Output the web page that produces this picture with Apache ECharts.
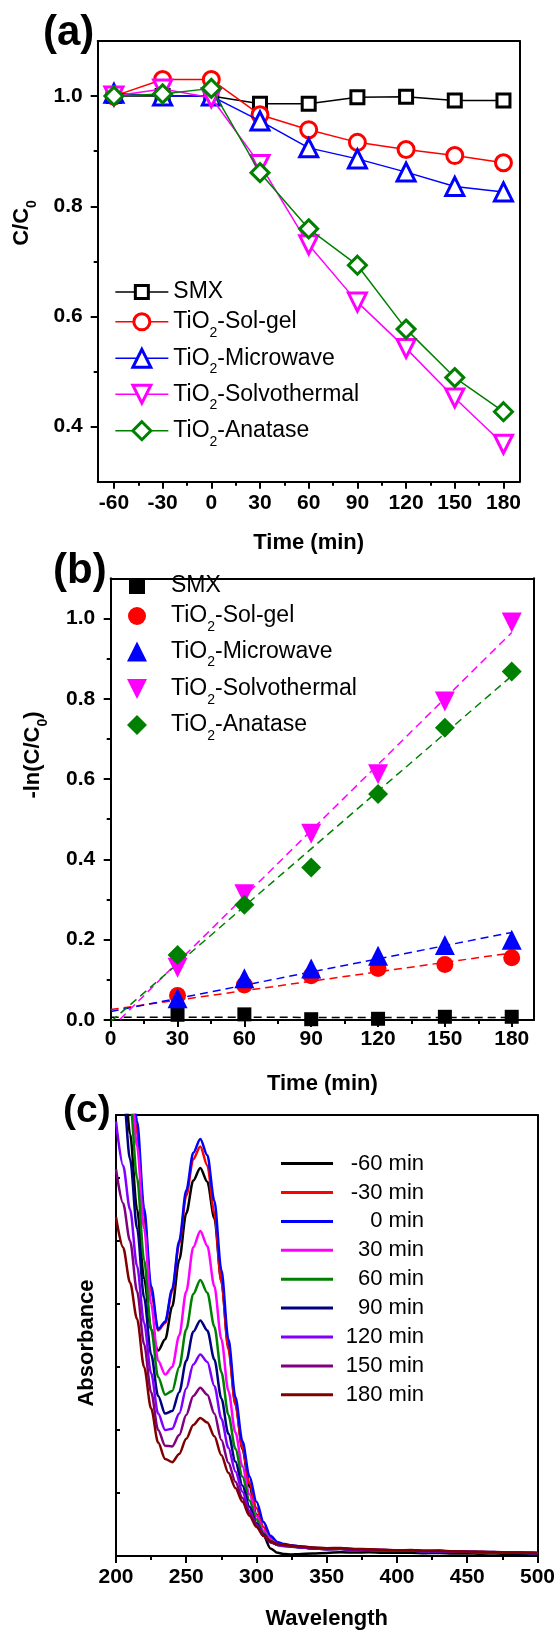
<!DOCTYPE html>
<html>
<head>
<meta charset="utf-8">
<title>SMX degradation</title>
<script src="https://cdn.jsdelivr.net/npm/echarts@6.0.0/dist/echarts.min.js"></script>
<style>
    html, body { margin: 0; padding: 0; background: #fff; }
    #chart { width: 558px; height: 1633px; }
</style>
</head>
<body>
<div id="chart"></div>
<script>
// (a) C/C0 vs time
const timeA = [-60, -30, 0, 30, 60, 90, 120, 150, 180];
const smxA = [1.0, 1.0, 1.0, 0.986, 0.986, 0.998, 0.999, 0.992, 0.992];
const solgelA = [1.0, 1.03, 1.03, 0.966, 0.939, 0.916, 0.903, 0.892, 0.879];
const microA = [1.005, 1.0, 1.0, 0.955, 0.906, 0.886, 0.862, 0.836, 0.826];
const solvoA = [1.0, 1.013, 0.997, 0.876, 0.73, 0.626, 0.542, 0.452, 0.368];
const anataseA = [1.0, 1.004, 1.014, 0.861, 0.759, 0.693, 0.577, 0.489, 0.427];
const ticksXA = [-60, -30, 0, 30, 60, 90, 120, 150, 180];
const minorXA = [-45, -15, 15, 45, 75, 105, 135, 165];
const ticksYA = [0.4, 0.6, 0.8, 1.0];
const minorYA = [0.5, 0.7, 0.9];

// (b) -ln(C/C0) vs time, with linear fits (values at t = 0 and t = 180)
const timeB = [30, 60, 90, 120, 150, 180];
const smxB = [0.013, 0.014, 0.002, 0.003, 0.008, 0.008];
const solgelB = [0.061, 0.087, 0.11, 0.128, 0.138, 0.155];
const microB = [0.054, 0.104, 0.128, 0.16, 0.187, 0.2];
const solvoB = [0.13, 0.313, 0.464, 0.612, 0.793, 0.99];
const anataseB = [0.162, 0.287, 0.38, 0.563, 0.728, 0.868];
const fitT = [0, 180];
const smxFit = [0.007, 0.006];
const solgelFit = [0.026, 0.167];
const microFit = [0.021, 0.218];
const solvoFit = [-0.021, 0.965];
const anataseFit = [-0.004, 0.857];
const ticksXB = [0, 30, 60, 90, 120, 150, 180];
const minorXB = [15, 45, 75, 105, 135, 165];
const ticksYB = [0, 0.2, 0.4, 0.6, 0.8, 1.0];
const minorYB = [0.1, 0.3, 0.5, 0.7, 0.9];

// (c) UV-vis spectra
const wl = [200, 205, 210, 215, 220, 225, 230, 235, 240, 245, 250, 255, 260, 265, 270, 275, 280, 285, 290, 295, 300, 305, 310, 315, 320, 325, 330,
    340, 350, 360, 370, 380, 390, 400, 410, 420, 430, 440, 450, 460, 470, 480, 490, 500];
const absM60 = [4.6, 4.0, 3.35, 2.75, 2.2, 1.8, 1.63, 1.72, 1.98, 2.35, 2.72, 2.98, 3.08, 2.97, 2.68, 2.18, 1.66, 1.21, 0.85, 0.55, 0.33, 0.16, 0.06, 0.025, 0.015, 0.012, 0.014,
    0.02, 0.024, 0.03, 0.027, 0.029, 0.026, 0.025, 0.026, 0.022, 0.024, 0.02, 0.021, 0.018, 0.02, 0.017, 0.018, 0.015];
const absM30 = [5.1, 4.6, 3.95, 3.35, 2.7, 2.1, 1.79, 1.85, 2.1, 2.48, 2.86, 3.15, 3.25, 3.1, 2.72, 2.18, 1.64, 1.2, 0.86, 0.58, 0.38, 0.23, 0.14, 0.1, 0.085, 0.078, 0.072,
    0.06, 0.055, 0.058, 0.05, 0.049, 0.046, 0.043, 0.044, 0.039, 0.04, 0.035, 0.034, 0.031, 0.03, 0.027, 0.025, 0.022];
const abs0 = [5.2, 4.7, 4.05, 3.45, 2.76, 2.14, 1.8, 1.86, 2.12, 2.5, 2.9, 3.2, 3.31, 3.18, 2.82, 2.27, 1.72, 1.26, 0.91, 0.63, 0.43, 0.27, 0.16, 0.11, 0.095, 0.085, 0.078,
    0.065, 0.058, 0.06, 0.052, 0.05, 0.047, 0.044, 0.045, 0.04, 0.041, 0.036, 0.035, 0.032, 0.031, 0.028, 0.027, 0.024];
const abs30 = [5.0, 4.5, 3.85, 3.25, 2.6, 2.0, 1.55, 1.44, 1.5, 1.75, 2.1, 2.45, 2.58, 2.46, 2.14, 1.72, 1.31, 0.98, 0.71, 0.49, 0.32, 0.2, 0.13, 0.095, 0.085, 0.078, 0.072,
    0.062, 0.056, 0.058, 0.05, 0.048, 0.046, 0.042, 0.043, 0.038, 0.039, 0.034, 0.033, 0.03, 0.029, 0.026, 0.025, 0.022];
const abs60 = [4.8, 4.2, 3.62, 3.0, 2.35, 1.8, 1.42, 1.28, 1.31, 1.5, 1.8, 2.08, 2.19, 2.09, 1.82, 1.46, 1.12, 0.85, 0.63, 0.44, 0.29, 0.18, 0.12, 0.09, 0.082, 0.076, 0.07,
    0.06, 0.055, 0.057, 0.05, 0.048, 0.045, 0.042, 0.043, 0.038, 0.038, 0.034, 0.033, 0.03, 0.029, 0.026, 0.024, 0.021];
const abs90 = [4.3, 3.7, 3.15, 2.6, 2.05, 1.6, 1.27, 1.13, 1.15, 1.3, 1.55, 1.78, 1.87, 1.79, 1.56, 1.25, 0.97, 0.75, 0.56, 0.39, 0.26, 0.17, 0.11, 0.088, 0.08, 0.074, 0.07,
    0.06, 0.054, 0.056, 0.049, 0.047, 0.045, 0.041, 0.042, 0.037, 0.038, 0.033, 0.032, 0.029, 0.028, 0.025, 0.024, 0.021];
const abs120 = [3.45, 3.1, 2.75, 2.3, 1.85, 1.45, 1.13, 1.0, 1.01, 1.13, 1.33, 1.52, 1.6, 1.54, 1.35, 1.09, 0.86, 0.67, 0.51, 0.36, 0.25, 0.16, 0.11, 0.088, 0.08, 0.075, 0.07,
    0.061, 0.055, 0.057, 0.05, 0.048, 0.045, 0.042, 0.043, 0.038, 0.039, 0.034, 0.033, 0.03, 0.029, 0.026, 0.025, 0.022];
const abs150 = [3.07, 2.8, 2.5, 2.1, 1.68, 1.3, 1.0, 0.875, 0.87, 0.96, 1.12, 1.27, 1.335, 1.28, 1.13, 0.92, 0.74, 0.59, 0.46, 0.34, 0.24, 0.16, 0.11, 0.09, 0.083, 0.078, 0.073,
    0.063, 0.057, 0.06, 0.052, 0.05, 0.047, 0.044, 0.045, 0.04, 0.04, 0.035, 0.034, 0.031, 0.03, 0.027, 0.026, 0.023];
const abs180 = [2.69, 2.45, 2.17, 1.88, 1.5, 1.17, 0.9, 0.77, 0.745, 0.81, 0.93, 1.04, 1.095, 1.06, 0.95, 0.8, 0.66, 0.54, 0.43, 0.32, 0.23, 0.16, 0.115, 0.095, 0.088, 0.082, 0.078,
    0.068, 0.062, 0.064, 0.056, 0.054, 0.05, 0.046, 0.047, 0.042, 0.042, 0.037, 0.036, 0.033, 0.031, 0.028, 0.027, 0.024];
const spectraNames = ['-60 min', '-30 min', '0 min', '30 min', '60 min', '90 min', '120 min', '150 min', '180 min'];
const spectraColors = ['#000000', '#ff0000', '#0000ff', '#ff00ff', '#008000', '#000080', '#8000ff', '#800080', '#800000'];
const spectra = [absM60, absM30, abs0, abs30, abs60, abs90, abs120, abs150, abs180];
const ticksXC = [200, 250, 300, 350, 400, 450, 500];
const minorXC = [225, 275, 325, 375, 425, 475];
const ticksYC = [0.5, 1.0, 1.5, 2.0, 2.5, 3.0];

const sampleNames = ['SMX', 'TiO2-Sol-gel', 'TiO2-Microwave', 'TiO2-Solvothermal', 'TiO2-Anatase'];
const sampleColors = ['#000000', '#ff0000', '#0000ff', '#ff00ff', '#008000'];

const FONT = 'Liberation Sans';
const black2 = { color: '#000', width: 2 };

function pairs(xs, ys) {
    return xs.map(function (x, i) { return [x, ys[i]]; });
}

// subscript formatter for "TiO2"; panel (b) series carry a "b:" prefix
function tiFmt(name) {
    name = name.replace(/^b:/, '');
    if (name.indexOf('TiO2') === 0) {
        return '{n|TiO}{s|2}{n|' + name.slice(4) + '}';
    }
    return '{n|' + name + '}';
}
const tiRich = {
    n: { fontSize: 23, lineHeight: 36, fontFamily: FONT, color: '#000' },
    s: { fontSize: 14, lineHeight: 14, verticalAlign: 'bottom', fontFamily: FONT, color: '#000' }
};

let grids = [
    { left: 97.7, top: 41, width: 422, height: 440.7 },
    { left: 110.7, top: 578.3, width: 423.3, height: 441.7 },
    { left: 116, top: 1115, width: 422, height: 441 }
];

let xAxes = [];
let yAxes = [];

function addAxes(g, o) {
    let labelStyle = { fontSize: 21, fontWeight: 'bold', fontFamily: FONT, color: '#000' };
    // bottom: main ticks + labels
    xAxes.push({
        type: 'value', gridIndex: g, position: 'bottom', min: o.xMin, max: o.xMax,
        axisLine: { onZero: false, lineStyle: black2 },
        axisTick: { customValues: o.xTicks, length: 7, lineStyle: black2 },
        axisLabel: Object.assign({ customValues: o.xTicks, margin: o.xMargin }, labelStyle),
        splitLine: { show: false },
        name: o.xName, nameLocation: 'middle', nameGap: o.xNameGap,
        nameTextStyle: { fontSize: 22, fontWeight: 'bold', fontFamily: FONT, color: '#000' }
    });
    // bottom: minor ticks
    xAxes.push({
        type: 'value', gridIndex: g, position: 'bottom', min: o.xMin, max: o.xMax,
        axisLine: { show: false, onZero: false },
        axisTick: { customValues: o.xMinor, length: 4, lineStyle: black2 },
        axisLabel: { show: false }, splitLine: { show: false }
    });
    // top frame
    xAxes.push({
        type: 'value', gridIndex: g, position: 'top', min: o.xMin, max: o.xMax,
        axisLine: { show: true, onZero: false, lineStyle: black2 },
        axisTick: { show: false }, axisLabel: { show: false }, splitLine: { show: false }
    });
    yAxes.push({
        type: 'value', gridIndex: g, position: 'left', min: o.yMin, max: o.yMax,
        axisLine: { show: true, onZero: false, lineStyle: black2 },
        axisTick: { customValues: o.yTicks, length: o.yTickLen, inside: !!o.yInside, lineStyle: black2 },
        axisLabel: Object.assign({
            show: o.yLabels, customValues: o.yTicks, margin: o.yMargin,
            formatter: function (v) { return Number(v).toFixed(1); }
        }, labelStyle),
        splitLine: { show: false }
    });
    yAxes.push({
        type: 'value', gridIndex: g, position: 'left', min: o.yMin, max: o.yMax,
        axisLine: { show: false, onZero: false },
        axisTick: { show: o.yMinor.length > 0, customValues: o.yMinor.length ? o.yMinor : [o.yMin], length: 4, lineStyle: black2 },
        axisLabel: { show: false }, splitLine: { show: false }
    });
    yAxes.push({
        type: 'value', gridIndex: g, position: 'right', min: o.yMin, max: o.yMax,
        axisLine: { show: true, onZero: false, lineStyle: black2 },
        axisTick: { show: false }, axisLabel: { show: false }, splitLine: { show: false }
    });
}

addAxes(0, { xMin: -70, xMax: 190, xTicks: ticksXA, xMinor: minorXA, xMargin: 11, xName: 'Time (min)', xNameGap: 50,
    yMin: 0.3, yMax: 1.1, yTicks: ticksYA, yMinor: minorYA, yTickLen: 7, yLabels: true, yMargin: 15 });
addAxes(1, { xMin: 0, xMax: 190, xTicks: ticksXB, xMinor: minorXB, xMargin: 9, xName: 'Time (min)', xNameGap: 53,
    yMin: 0, yMax: 1.1, yTicks: ticksYB, yMinor: minorYB, yTickLen: 7, yLabels: true, yMargin: 15.5 });
addAxes(2, { xMin: 200, xMax: 500, xTicks: ticksXC, xMinor: minorXC, xMargin: 10.5, xName: 'Wavelength', xNameGap: 52,
    yMin: 0, yMax: 3.5, yTicks: ticksYC, yMinor: [], yTickLen: 4, yInside: true, yLabels: false, yMargin: 10 });

let series = [];
let legends = [];

// (a) open symbols joined by lines
let dataA = [smxA, solgelA, microA, solvoA, anataseA];
let symA = ['rect', 'circle', 'triangle', 'triangle', 'diamond'];
let sizeA = [13, 16, 18, 18, 18];
let rotA = [0, 0, 0, 180, 0];
let rowsA = [298.6, 328.3, 364.8, 400.7, 437.2];
for (let i = 0; i < 5; i++) {
    series.push({
        type: 'line', name: sampleNames[i], xAxisIndex: 0, yAxisIndex: 0,
        data: pairs(timeA, dataA[i]),
        symbol: symA[i], symbolSize: sizeA[i], symbolRotate: rotA[i], showAllSymbol: true,
        lineStyle: { color: sampleColors[i], width: 1.5 },
        itemStyle: { color: '#fff', borderColor: sampleColors[i], borderWidth: 3 },
        z: 3 + i
    });
    legends.push({
        data: [sampleNames[i]], left: 114.6, top: rowsA[i] - 18, padding: 0,
        itemWidth: 53, itemHeight: sizeA[i] / 0.8, selectedMode: false,
        itemStyle: { borderWidth: 3 }, lineStyle: { width: 1.5 },
        formatter: tiFmt, textStyle: { rich: tiRich }
    });
}

// (b) fits (dashed) then filled markers
let dataB = [smxB, solgelB, microB, solvoB, anataseB];
let fitB = [smxFit, solgelFit, microFit, solvoFit, anataseFit];
let sizeB = [14, 17, 20, 20, 20];
let legSizeB = [16, 18, 20, 20, 20];
let legIconB = ['rect', 'circle', 'triangle', 'path://M0,0L2,0L1,2Z', 'diamond'];
let rowsB = [592.5, 622.5, 658, 695.5, 731.5];
for (let i = 0; i < 5; i++) {
    series.push({
        type: 'line', name: 'fit:' + sampleNames[i], xAxisIndex: 3, yAxisIndex: 3,
        data: pairs(fitT, fitB[i]), symbol: 'none',
        lineStyle: { color: sampleColors[i], width: 1.5, type: [8, 5] }, z: 2
    });
}
for (let i = 0; i < 5; i++) {
    let s = legSizeB[i];
    series.push({
        type: 'scatter', name: 'b:' + sampleNames[i], xAxisIndex: 3, yAxisIndex: 3,
        data: pairs(timeB, dataB[i]),
        symbol: symA[i], symbolSize: sizeB[i], symbolRotate: rotA[i],
        itemStyle: { color: sampleColors[i], opacity: 1 }, z: 4 + i
    });
    legends.push({
        data: [{ name: 'b:' + sampleNames[i], icon: legIconB[i] }],
        left: 137 - s / 2, top: rowsB[i] - 18, padding: 0,
        itemWidth: s, itemHeight: s, selectedMode: false, symbolKeepAspect: false,
        formatter: tiFmt, textStyle: { rich: tiRich, padding: [0, 0, 0, 29 - s / 2] }
    });
}

// (c) spectra
for (let i = 0; i < spectra.length; i++) {
    series.push({
        type: 'line', name: spectraNames[i], xAxisIndex: 6, yAxisIndex: 6,
        data: pairs(wl, spectra[i]), symbol: 'none', showSymbol: false,
        smooth: 0.3, smoothMonotone: 'x',
        lineStyle: { color: spectraColors[i], width: 2.5 },
        itemStyle: { color: spectraColors[i] }, z: 2 + i
    });
}
legends.push({
    data: spectraNames, orient: 'vertical', left: 281, top: 1152.6, padding: 0,
    itemWidth: 52, itemHeight: 3, itemGap: 6.9, icon: 'rect', selectedMode: false,
    formatter: function (n) { return '{a|' + n + '}'; },
    textStyle: { rich: { a: { width: 86, align: 'right', fontSize: 22, lineHeight: 22, fontFamily: FONT, color: '#000' } } }
});

let titleRich = {
    n: { fontSize: 22, fontWeight: 'bold', fontFamily: FONT, lineHeight: 34, fill: '#000' },
    s: { fontSize: 14, fontWeight: 'bold', fontFamily: FONT, lineHeight: 14, verticalAlign: 'bottom', fill: '#000' }
};
function panelLabel(txt, x, y, size) {
    return {
        type: 'text', x: x, y: y,
        style: { text: txt, fontSize: size, fontWeight: 'bold', fontFamily: FONT, fill: '#000', align: 'left', verticalAlign: 'middle' }
    };
}
function yTitle(txt, x, y) {
    return {
        type: 'text', x: x, y: y, rotation: Math.PI / 2,
        style: { text: txt, rich: titleRich, fontSize: 22, fontWeight: 'bold', fontFamily: FONT, fill: '#000', align: 'center', verticalAlign: 'middle' }
    };
}

let chart = echarts.init(document.getElementById('chart'));
chart.setOption({
    animation: false,
    backgroundColor: '#fff',
    grid: grids,
    xAxis: xAxes,
    yAxis: yAxes,
    legend: legends,
    series: series,
    graphic: [
        panelLabel('(a)', 43, 33, 42),
        panelLabel('(b)', 53, 571, 42),
        panelLabel('(c)', 63, 1111, 39),
        yTitle('{n|C/C}{s|0}', 22, 223),
        yTitle('{n|-ln(C/C}{s|0}{n|)}', 33, 755),
        yTitle('{n|Absorbance}', 87, 1343)
    ]
});
</script>
</body>
</html>
